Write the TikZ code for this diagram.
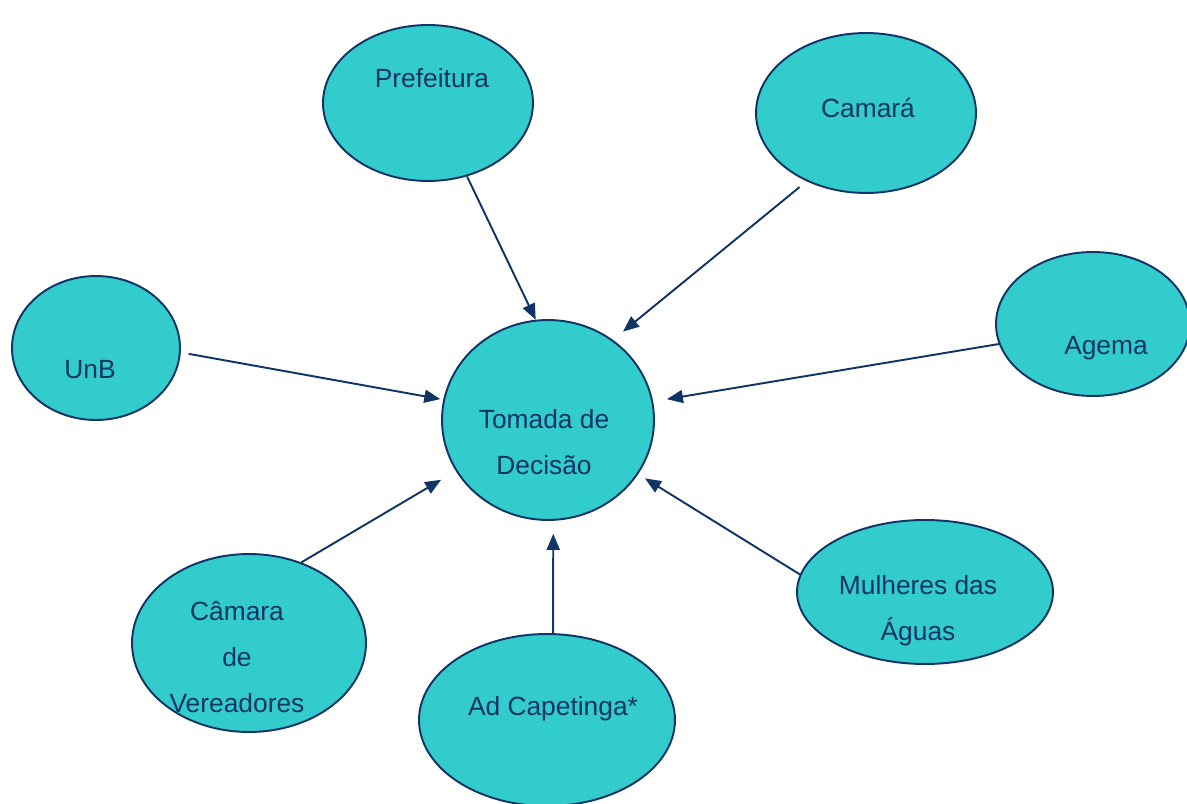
\documentclass[tikz,border=0pt]{standalone}
\usepackage{fontspec}
\setmainfont{Liberation Sans}
\usetikzlibrary{shapes.geometric}
\usetikzlibrary{arrows.meta}
\usetikzlibrary{calc}

\definecolor{tealfill}{RGB}{51,204,204}
\definecolor{navy}{RGB}{16,52,102}

\begin{document}
\begin{tikzpicture}[x=0.02cm, y=-0.02cm,
    actor/.style={ellipse, draw=navy, fill=tealfill, line width=1.1pt, inner sep=0pt},
    lbl/.style={text=navy, align=center, font=\fontsize{15}{26}\selectfont},
    link/.style={draw=navy, line width=1.1pt, -{Triangle[length=0.32cm, width=0.26cm]}}]
            \useasboundingbox (0, 0) rectangle (1187, 804);
            % actors
            \node[actor, minimum width=4.2cm, minimum height=3.12cm] (pref) at (428, 103) {};
            \node[actor, minimum width=4.4cm, minimum height=3.2cm] (camara) at (866, 113) {};
            \node[actor, minimum width=3.36cm, minimum height=2.88cm] (unb) at (96, 348) {};
            \node[actor, minimum width=3.88cm, minimum height=2.88cm] (agema) at (1093, 324) {};
            \node[actor, minimum width=4.24cm, minimum height=4cm] (tomada) at (548, 420) {};
            \node[actor, minimum width=4.68cm, minimum height=3.56cm] (vereadores) at (249, 643) {};
            \node[actor, minimum width=5.12cm, minimum height=3.44cm] (capetinga) at (547, 720) {};
            \node[actor, minimum width=5.12cm, minimum height=2.88cm] (mulheres) at (925, 592) {};
            % texts
            \node[lbl] (pref-t) at (432, 78) {Prefeitura};
            \node[lbl] (camara-t) at (868, 108) {Camará};
            \node[lbl] (unb-t) at (90, 370) {UnB};
            \node[lbl] (agema-t) at (1106, 348) {Agema};
            \node[lbl] (tomada-t) at (544, 442) {Tomada de\\Decisão};
            \node[lbl] (vereadores-t) at (237, 657) {Câmara\\de\\Vereadores};
            \node[lbl] (capetinga-t) at (553, 709) {Ad Capetinga*};
            \node[lbl] (mulheres-t) at (918, 611) {Mulheres das\\Águas};
            % arrows into the decision
            \foreach \s/\a/\b/\f/\g in {pref/-62.5/97.6/0/0, camara/-131.8/51/9/13, unb/-3/169.4/8/3,
                agema/-168.6/10.6/0/14, vereadores/57.3/-151.5/0/17, capetinga/86/-87.5/0/13,
                mulheres/172.4/-31/0/8}
            {
                \draw[link, shorten <=\f*0.02cm, shorten >=\g*0.02cm] (\s.\a) -- (tomada.\b);
            }
        \end{tikzpicture}
\end{document}
